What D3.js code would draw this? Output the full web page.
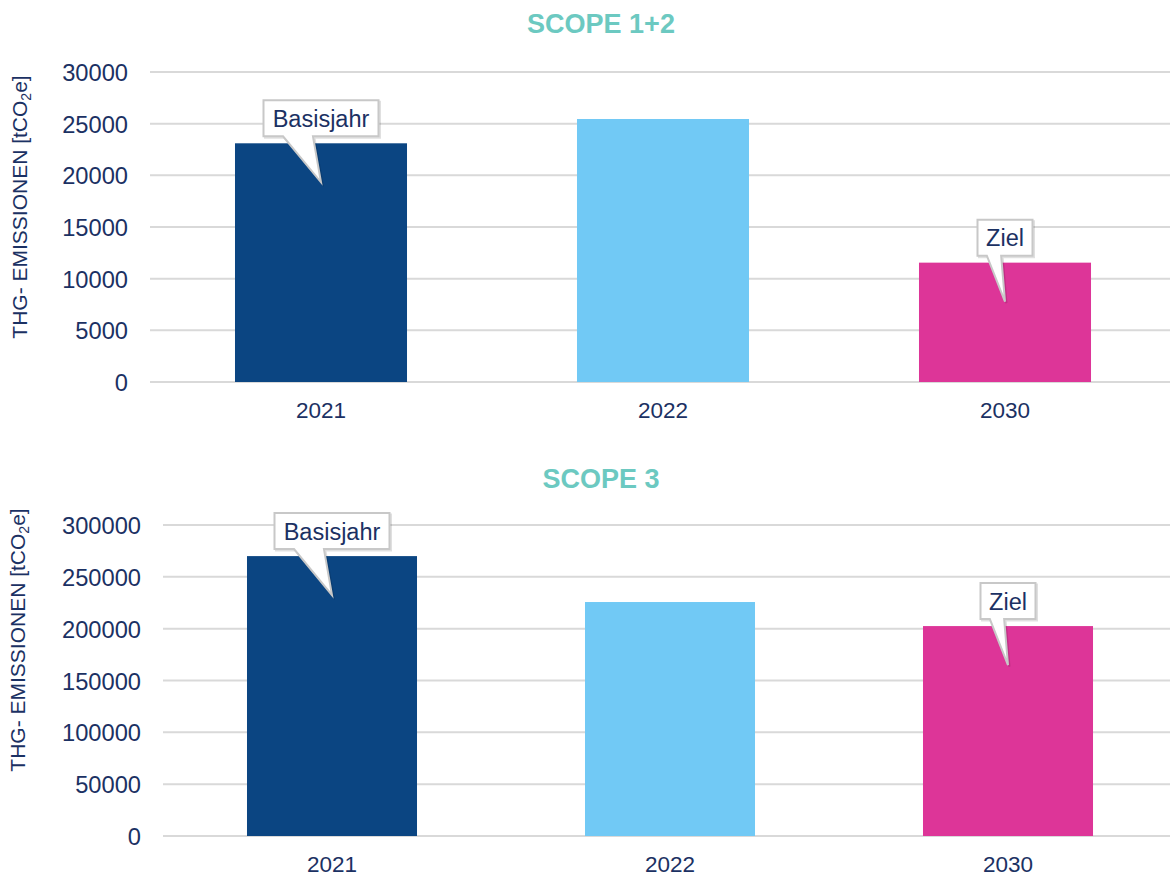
<!DOCTYPE html>
<html>
<head>
<meta charset="utf-8">
<script src="https://cdn.jsdelivr.net/npm/d3@7"></script>
<style>
  body { margin: 0; background: #fff; }
  svg { display: block; font-family: "Liberation Sans", Arial, sans-serif; }
</style>
</head>
<body>
<script>
// data
var years = ["2021", "2022", "2030"];
var scope12 = [23100, 25450, 11550];
var scope3 = [270000, 225700, 202500];
var scope12Ticks = [0, 5000, 10000, 15000, 20000, 25000, 30000];
var scope3Ticks = [0, 50000, 100000, 150000, 200000, 250000, 300000];
var barColors = ["#0b4582", "#71c9f5", "#dd3598"];
var callouts = [{year: "2021", label: "Basisjahr"}, {year: "2030", label: "Ziel"}];

var navy = "#1b3163";

var svg = d3.select("body").append("svg")
  .attr("width", 1170)
  .attr("height", 878);

// each panel gets its own place on the page
var panels = [
  {title: "SCOPE 1+2", values: scope12, ticks: scope12Ticks, max: 30000,
   titleY: 33, top: 72, bottom: 382, left: 150, right: 1176, tickX: 128, labelX: 27, labelY: 207},
  {title: "SCOPE 3", values: scope3, ticks: scope3Ticks, max: 300000,
   titleY: 488, top: 525, bottom: 836, left: 163, right: 1177, tickX: 141, labelX: 25, labelY: 640}
];

panels.forEach(function (p) {
  var x = d3.scaleBand()
    .domain(years)
    .range([p.left, p.right])
    .paddingInner(0.497)
    .paddingOuter(0.2485);

  var y = d3.scaleLinear()
    .domain([0, p.max])
    .range([p.bottom, p.top]);

  var g = svg.append("g");

  // title
  g.append("text")
    .attr("x", 601)
    .attr("y", p.titleY)
    .attr("text-anchor", "middle")
    .attr("font-size", "27px")
    .attr("font-weight", "bold")
    .attr("fill", "#6cc9c1")
    .text(p.title);

  // gridlines
  g.selectAll("line.grid")
    .data(p.ticks)
    .enter()
    .append("line")
    .attr("class", "grid")
    .attr("x1", p.left)
    .attr("x2", 1170)
    .attr("y1", function (d) { return y(d); })
    .attr("y2", function (d) { return y(d); })
    .attr("stroke", "#d9d9d9")
    .attr("stroke-width", 2);

  // y axis, only the labels
  var yAxis = g.append("g")
    .attr("transform", "translate(" + p.tickX + ",0)")
    .call(d3.axisLeft(y).tickValues(p.ticks).tickSize(0).tickPadding(0).tickFormat(d3.format("d")));
  yAxis.select(".domain").remove();
  yAxis.attr("font-family", null);
  yAxis.selectAll("text")
    .attr("font-size", "23.7px")
    .attr("fill", navy)
    .attr("dy", "0.36em");

  // bars
  g.selectAll("rect")
    .data(p.values)
    .enter()
    .append("rect")
    .attr("x", function (d, i) { return x(years[i]); })
    .attr("y", function (d) { return y(d); })
    .attr("width", x.bandwidth())
    .attr("height", function (d) { return p.bottom - y(d); })
    .attr("fill", function (d, i) { return barColors[i]; });

  // x axis, only the labels
  var xAxis = g.append("g")
    .attr("transform", "translate(0," + p.bottom + ")")
    .call(d3.axisBottom(x).tickSize(0).tickPadding(0));
  xAxis.select(".domain").remove();
  xAxis.attr("font-family", null);
  xAxis.selectAll("text")
    .attr("font-size", "22.5px")
    .attr("fill", navy)
    .attr("dy", "36px");

  // y axis title with subscript
  var yl = g.append("text")
    .attr("transform", "translate(" + p.labelX + "," + p.labelY + ") rotate(-90)")
    .attr("text-anchor", "middle")
    .attr("font-size", "21px")
    .attr("fill", navy);
  yl.append("tspan").text("THG- EMISSIONEN [tCO");
  yl.append("tspan").attr("font-size", "14px").attr("dy", "4").text("2");
  yl.append("tspan").attr("dy", "-4").text("e]");

  // callouts
  callouts.forEach(function (c) {
    var i = years.indexOf(c.year);
    var tipX = x(c.year) + x.bandwidth() / 2;
    var tipY = y(p.values[i]) + 39;
    var boxW = c.label === "Ziel" ? 55 : 115;
    var boxH = 36;
    var bx = tipX - boxW / 2;
    var by = y(p.values[i]) - 7 - boxH;
    var b1 = bx + boxW * 0.17;
    var b2 = bx + boxW * 0.43;
    var path = d3.path();
    path.moveTo(bx, by);
    path.lineTo(bx + boxW, by);
    path.lineTo(bx + boxW, by + boxH);
    path.lineTo(b2, by + boxH);
    path.lineTo(tipX, tipY);
    path.lineTo(b1, by + boxH);
    path.lineTo(bx, by + boxH);
    path.closePath();
    g.append("path")
      .attr("d", path.toString())
      .attr("transform", "translate(1.5,1.5)")
      .attr("fill", "none")
      .attr("stroke", "#000")
      .attr("stroke-opacity", 0.12)
      .attr("stroke-width", 2);
    g.append("path")
      .attr("d", path.toString())
      .attr("fill", "#fff")
      .attr("stroke", "#c8c8c8")
      .attr("stroke-width", 2)
      .attr("stroke-linejoin", "miter");
    g.append("text")
      .attr("x", bx + boxW / 2)
      .attr("y", by + boxH / 2)
      .attr("dy", "0.36em")
      .attr("text-anchor", "middle")
      .attr("font-size", "23.5px")
      .attr("fill", navy)
      .text(c.label);
  });
});
</script>
</body>
</html>
